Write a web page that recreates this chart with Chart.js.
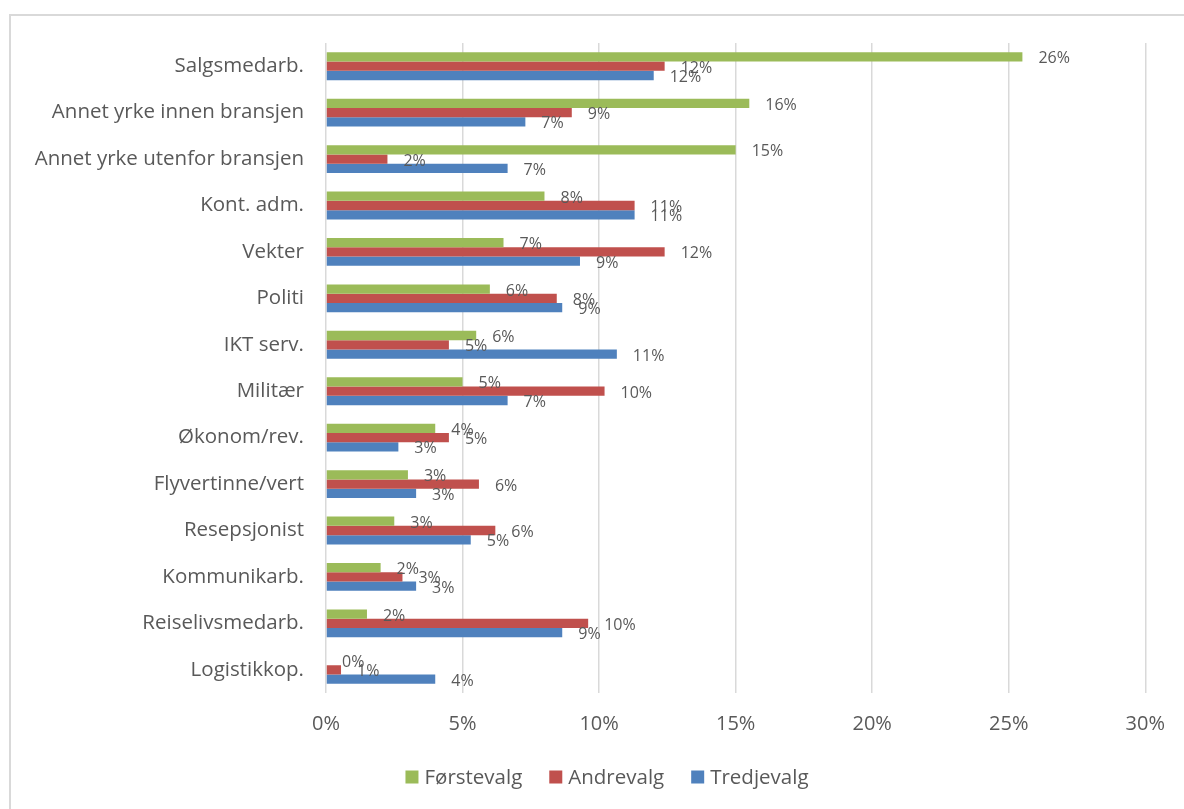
<!DOCTYPE html>
<html>
<head>
<meta charset="utf-8">
<script src="https://cdn.jsdelivr.net/npm/chart.js@4.4.1/dist/chart.umd.min.js"></script>
<style>
  html, body { margin: 0; padding: 0; background: #fff; }
  #wrap { position: relative; width: 1184px; height: 809px; }
</style>
</head>
<body>
<div id="wrap"><canvas id="c" width="1184" height="809"></canvas></div>
<script>
const categories = [
  "Salgsmedarb.", "Annet yrke innen bransjen", "Annet yrke utenfor bransjen",
  "Kont. adm.", "Vekter", "Politi", "IKT serv.", "Militær", "Økonom/rev.",
  "Flyvertinne/vert", "Resepsjonist", "Kommunikarb.", "Reiselivsmedarb.", "Logistikkop."
];
const seriesNames = ["Førstevalg", "Andrevalg", "Tredjevalg"];
const forstevalg = [25.5, 15.5, 15.0, 8.0, 6.5, 6.0, 5.5, 5.0, 4.0, 3.0, 2.5, 2.0, 1.5, 0.0];
const andrevalg  = [12.4, 9.0, 2.25, 11.3, 12.4, 8.45, 4.5, 10.2, 4.5, 5.6, 6.2, 2.8, 9.6, 0.55];
const tredjevalg = [12.0, 7.3, 6.65, 11.3, 9.3, 8.65, 10.65, 6.65, 2.65, 3.3, 5.3, 3.3, 8.65, 4.0];
const xTicks = [0, 5, 10, 15, 20, 25, 30];
const colors = ["#9BBB59", "#C0504D", "#4F81BD"];

const FONT = "'Open Sans', 'Liberation Sans', sans-serif";
const TEXT = "#595959";

const borderPlugin = {
  id: 'outerBorder',
  beforeDraw(chart) {
    const ctx = chart.ctx;
    ctx.save();
    ctx.strokeStyle = '#d9d9d9';
    ctx.lineWidth = 2;
    ctx.strokeRect(10, 15, 1400, 1000);
    ctx.restore();
  }
};

const labelPlugin = {
  id: 'valueLabels',
  afterDatasetsDraw(chart) {
    const ctx = chart.ctx;
    ctx.save();
    ctx.font = "16px " + FONT;
    ctx.fillStyle = TEXT;
    ctx.textAlign = 'left';
    ctx.textBaseline = 'middle';
    chart.data.datasets.forEach((ds, di) => {
      const meta = chart.getDatasetMeta(di);
      meta.data.forEach((el, i) => {
        const v = ds.data[i];
        ctx.fillText(Math.round(v) + '%', el.x + 16, el.y + 2);
      });
    });
    ctx.restore();
  }
};

const legendPlugin = {
  id: 'customLegend',
  afterDraw(chart) {
    const ctx = chart.ctx;
    ctx.save();
    ctx.font = "20.5px " + FONT;
    ctx.textBaseline = 'middle';
    ctx.textAlign = 'left';
    const box = 13, gapText = 6, gapItem = 27;
    const items = chart.data.datasets.map(ds => ({ label: ds.label, color: ds.backgroundColor, w: ctx.measureText(ds.label).width }));
    let total = 0;
    items.forEach((it, i) => { total += box + gapText + it.w + (i < items.length - 1 ? gapItem : 0); });
    let x = 607 - total / 2;
    const y = 777;
    items.forEach(it => {
      ctx.fillStyle = it.color;
      ctx.fillRect(x, y - box / 2, box, box);
      x += box + gapText;
      ctx.fillStyle = TEXT;
      ctx.fillText(it.label, x, y + 1);
      x += it.w + gapItem;
    });
    ctx.restore();
  }
};

new Chart(document.getElementById('c'), {
  type: 'bar',
  data: {
    labels: categories,
    datasets: [
      { label: seriesNames[0], data: forstevalg, backgroundColor: colors[0] },
      { label: seriesNames[1], data: andrevalg, backgroundColor: colors[1] },
      { label: seriesNames[2], data: tredjevalg, backgroundColor: colors[2] }
    ]
  },
  options: {
    indexAxis: 'y',
    responsive: false,
    animation: false,
    devicePixelRatio: 1,
    layout: { padding: { top: 43, right: 38, bottom: 66, left: 0 } },
    datasets: { bar: { categoryPercentage: 0.6, barPercentage: 1.0 } },
    plugins: {
      legend: { display: false },
      tooltip: { enabled: false }
    },
    scales: {
      x: {
        min: 0, max: 30,
        afterBuildTicks(scale) { scale.ticks = xTicks.map(v => ({ value: v })); },
        afterFit(scale) { scale.height = 50; },
        grid: { color: '#d9d9d9', lineWidth: 1.5, drawTicks: false },
        border: { display: false },
        ticks: { padding: 19, color: TEXT, font: { family: FONT, size: 20 }, callback: v => v + '%' }
      },
      y: {
        afterFit(scale) { scale.width = 326; },
        grid: { display: false, drawTicks: false },
        border: { display: false },
        ticks: { padding: 22, color: TEXT, font: { family: FONT, size: 20.5 } }
      }
    }
  },
  plugins: [borderPlugin, labelPlugin, legendPlugin]
});
</script>
</body>
</html>
